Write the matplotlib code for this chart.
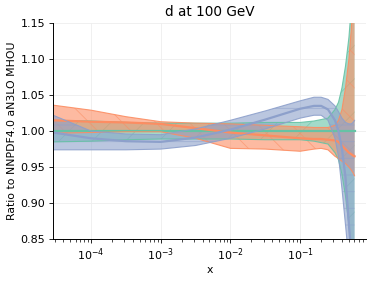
import numpy as np
import matplotlib.pyplot as plt

# x grid and ratios to NNPDF4.0 aN3LO MHOU
x = [2.85e-5, 1e-4, 3.16e-4, 1e-3, 3.16e-3, 1e-2, 3.16e-2, 0.1, 0.158, 0.2,
     0.251, 0.316, 0.355, 0.398, 0.447, 0.501, 0.54, 0.575, 0.603]

green_c = [1.0] * 19
green_up = [1.015, 1.014, 1.012, 1.011, 1.011, 1.011, 1.012, 1.012, 1.014, 1.016,
            1.018, 1.030, 1.040, 1.060, 1.090, 1.130, 1.170, 1.210, 1.250]
green_lo = [0.985, 0.986, 0.988, 0.989, 0.989, 0.989, 0.988, 0.988, 0.986, 0.984,
            0.982, 0.970, 0.960, 0.940, 0.910, 0.870, 0.830, 0.790, 0.750]

orange_c = [1.015, 1.013, 1.012, 1.010, 1.004, 0.998, 0.994, 0.990, 0.989, 0.989,
            0.988, 0.987, 0.985, 0.980, 0.975, 0.970, 0.968, 0.966, 0.965]
orange_up = [1.036, 1.029, 1.020, 1.013, 1.011, 1.010, 1.008, 1.006, 1.005, 1.005,
             1.005, 1.008, 1.015, 1.030, 1.060, 1.100, 1.140, 1.180, 1.220]
orange_lo = [0.997, 0.998, 0.999, 0.999, 0.990, 0.976, 0.975, 0.972, 0.975, 0.976,
             0.974, 0.965, 0.962, 0.958, 0.955, 0.950, 0.946, 0.942, 0.938]

blue_c = [0.998, 0.990, 0.986, 0.985, 0.991, 1.002, 1.016, 1.031, 1.035, 1.035,
          1.030, 1.015, 1.000, 0.975, 0.936, 0.870, 0.830, 0.790, 0.750]
blue_up = [1.022, 1.000, 0.996, 0.995, 1.003, 1.015, 1.028, 1.042, 1.047, 1.047,
           1.044, 1.035, 1.027, 1.018, 1.012, 1.010, 1.010, 1.012, 1.015]
blue_lo = [0.974, 0.974, 0.974, 0.975, 0.980, 0.990, 1.003, 1.018, 1.022, 1.022,
           1.015, 0.990, 0.965, 0.920, 0.870, 0.820, 0.780, 0.740, 0.700]

colors = ["#66c2a5", "#fc8d62", "#8da0cb"]
hatches = ["/", "\\", "-"]
series = [(green_c, green_up, green_lo),
          (orange_c, orange_up, orange_lo),
          (blue_c, blue_up, blue_lo)]

plt.rcParams["hatch.linewidth"] = 0.6

fig = plt.figure(figsize=(3.74, 2.81), dpi=100)
ax = fig.add_axes([0.142, 0.149, 0.837, 0.769])

for (c, up, lo), col, h in zip(series, colors, hatches):
    ax.fill_between(x, lo, up, facecolor=col, edgecolor=col, alpha=0.6,
                    hatch=h, linewidth=0)
for (c, up, lo), col in zip(series, colors):
    ax.plot(x, up, color=col, lw=0.8, alpha=0.9)
    ax.plot(x, lo, color=col, lw=0.8, alpha=0.9)
    ax.plot(x, c, color=col, lw=1.6)

ax.set_xscale("log")
ax.set_xlim(2.85e-5, 0.885)
ax.set_ylim(0.85, 1.15)
ax.set_yticks(np.arange(0.85, 1.151, 0.05))
ax.set_yticklabels([f"{v:.2f}" for v in np.arange(0.85, 1.151, 0.05)])
ax.grid(True, color="#eeeeee", lw=0.6)
ax.set_axisbelow(True)
for s in ["top", "right"]:
    ax.spines[s].set_visible(False)
ax.spines["left"].set_linewidth(0.7)
ax.spines["bottom"].set_linewidth(0.7)
ax.tick_params(labelsize=8, length=3, width=0.6, pad=2.5)
ax.tick_params(which="minor", length=1.8, width=0.5)

ax.set_title("d at 100 GeV", fontsize=9.8, pad=5)
ax.set_xlabel("x", fontsize=7.8, labelpad=1)
ax.set_ylabel("Ratio to NNPDF4.0 aN3LO MHOU", fontsize=7.8, labelpad=3)

fig.savefig("out.png", dpi=100)
